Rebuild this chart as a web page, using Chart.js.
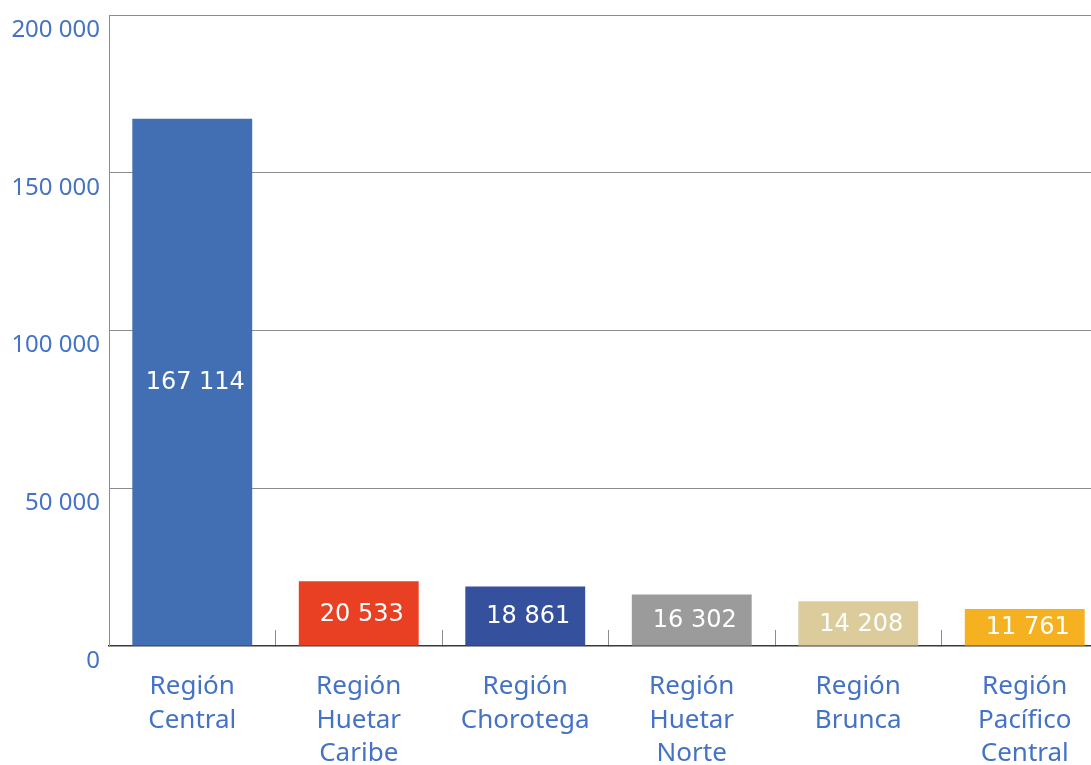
<!DOCTYPE html>
<html>
<head>
<meta charset="utf-8">
<script src="https://cdn.jsdelivr.net/npm/chart.js@4"></script>
<style>
  html, body { margin: 0; padding: 0; overflow: hidden; background: #ffffff; width: 1091px; height: 765px; }
  #wrap { position: absolute; left: 0; top: 0; width: 1108px; height: 765px; }
</style>
</head>
<body>
<div id="wrap"><canvas id="c"></canvas></div>
<script>
const categories = [
  ['Región', 'Central'],
  ['Región', 'Huetar', 'Caribe'],
  ['Región', 'Chorotega'],
  ['Región', 'Huetar', 'Norte'],
  ['Región', 'Brunca'],
  ['Región', 'Pacífico', 'Central']
];
const values = [167114, 20533, 18861, 16302, 14208, 11761];
const barColors = ['#426EB4', '#E94024', '#35509D', '#9B9B9B', '#DCCC9C', '#F5B120'];
const yTicks = [0, 50000, 100000, 150000, 200000];

const fmt = v => String(v).replace(/\B(?=(\d{3})+(?!\d))/g, ' ');
const BLUE = '#4472C4';

const valueLabels = {
  id: 'valueLabels',
  afterDatasetsDraw(chart) {
    const ctx = chart.ctx;
    const meta = chart.getDatasetMeta(0);
    ctx.save();
    ctx.fillStyle = '#ffffff';
    ctx.font = '24px "DejaVu Sans"';
    ctx.textAlign = 'center';
    ctx.textBaseline = 'middle';
    meta.data.forEach((bar, i) => {
      const cy = (bar.y + bar.base) / 2;
      ctx.fillText(fmt(values[i]), bar.x + 3, cy + 1);
    });
    ctx.restore();
  }
};

new Chart(document.getElementById('c'), {
  type: 'bar',
  data: {
    labels: categories,
    datasets: [{
      data: values,
      backgroundColor: barColors,
      borderWidth: 0,
      barPercentage: 0.72,
      categoryPercentage: 1.0
    }]
  },
  options: {
    responsive: true,
    maintainAspectRatio: false,
    animation: false,
    layout: { padding: { top: 15, right: 0, left: 0, bottom: 0 } },
    plugins: { legend: { display: false }, tooltip: { enabled: false } },
    scales: {
      x: {
        grid: {
          display: true,
          drawOnChartArea: false,
          drawTicks: true,
          tickLength: -16,
          color: '#8c8c8c',
          lineWidth: 1,
          offset: true
        },
        border: { display: true, color: '#3a3a3a', width: 1.5 },
        ticks: {
          color: BLUE,
          font: { family: '"Noto Sans"', size: 26, lineHeight: 1.29 },
          padding: 40,
          maxRotation: 0,
          autoSkip: false
        },
        afterFit(scale) { scale.height = 119; scale.paddingLeft = 0; scale.paddingRight = 0; }
      },
      y: {
        min: 0,
        max: 200000,
        afterBuildTicks(scale) { scale.ticks = yTicks.map(v => ({ value: v })); },
        grid: {
          drawTicks: false,
          color: ctx => (ctx.tick && ctx.tick.value === 0) ? 'rgba(0,0,0,0)' : '#8c8c8c',
          lineWidth: 1
        },
        border: { display: true, color: '#8c8c8c', width: 1 },
        ticks: {
          color: BLUE,
          font: { family: '"Noto Sans"', size: 24 },
          padding: 9,
          labelOffset: 15,
          callback: v => fmt(v)
        },
        afterFit(scale) { scale.width = 109; scale.paddingTop = 0; scale.paddingBottom = 0; }
      }
    }
  },
  plugins: [valueLabels]
});
</script>
</body>
</html>
